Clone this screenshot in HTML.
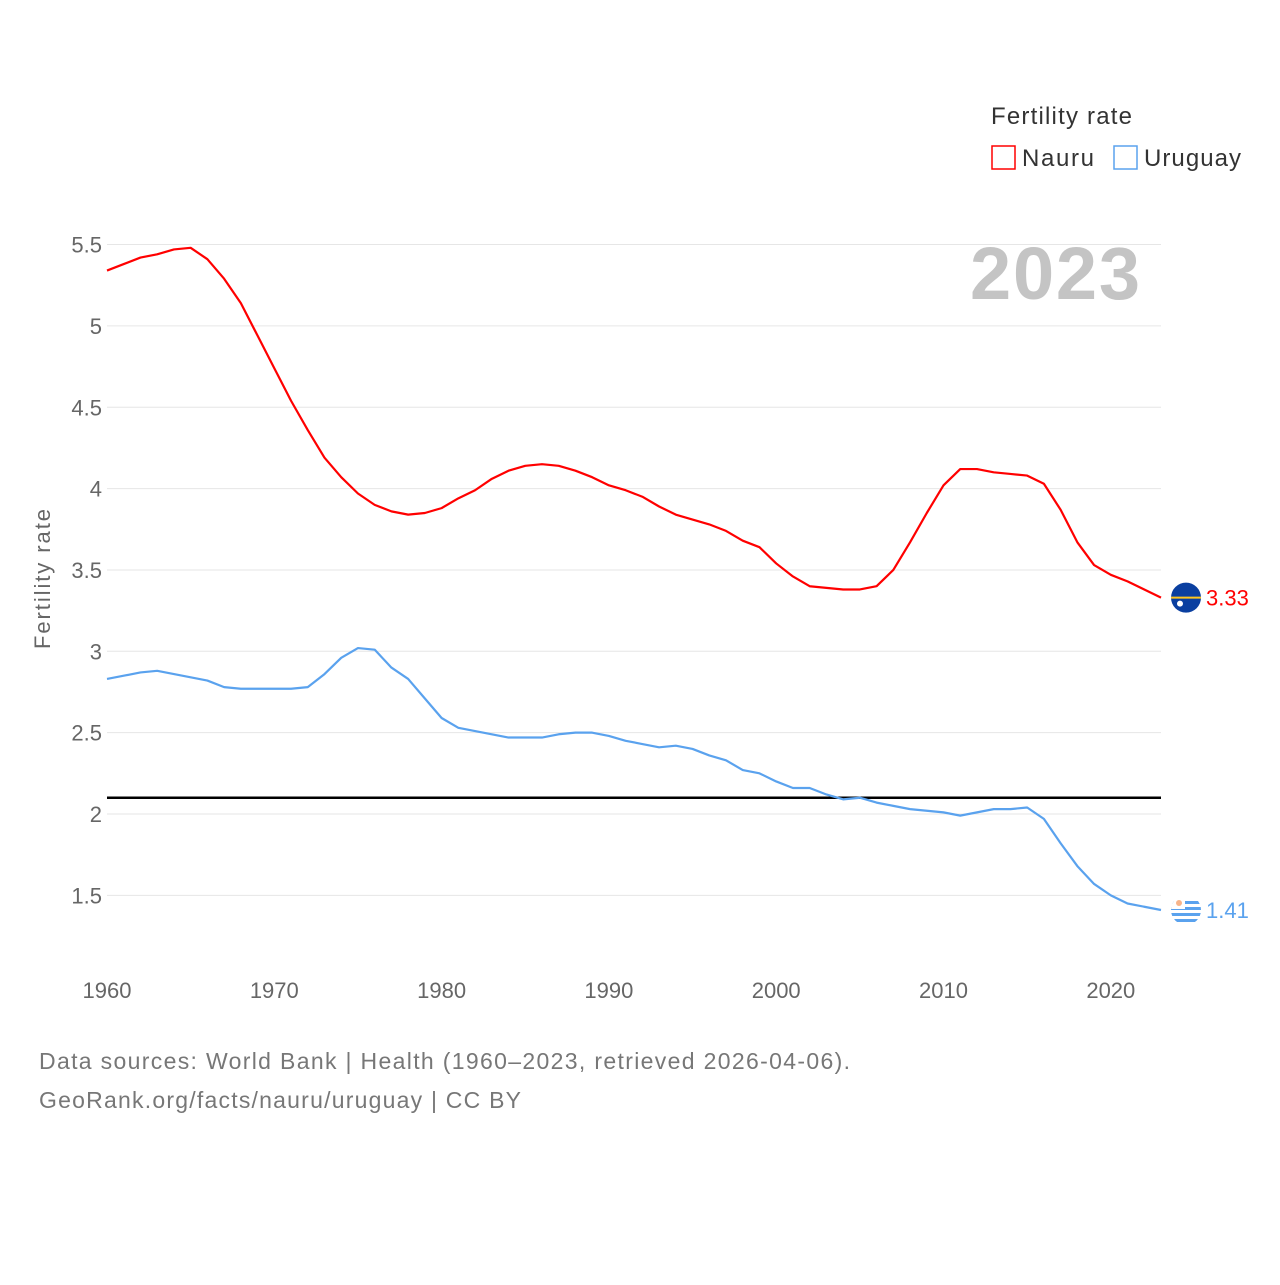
<!DOCTYPE html>
<html><head><meta charset="utf-8"><style>
body{margin:0;background:#fff;font-family:"Liberation Sans",sans-serif}
svg text{font-family:"Liberation Sans",sans-serif}
</style></head><body>
<svg id="c" width="1280" height="1280">
<defs><clipPath id="uc"><circle cx="1186" cy="909" r="15"/></clipPath></defs>
</svg>
<script>
const years=[];for(let y=1960;y<=2023;y++)years.push(y);
const nauru=[5.34,5.38,5.42,5.44,5.47,5.48,5.41,5.29,5.14,4.94,4.74,4.54,4.36,4.19,4.07,3.97,3.90,3.86,3.84,3.85,3.88,3.94,3.99,4.06,4.11,4.14,4.15,4.14,4.11,4.07,4.02,3.99,3.95,3.89,3.84,3.81,3.78,3.74,3.68,3.64,3.54,3.46,3.40,3.39,3.38,3.38,3.40,3.50,3.67,3.85,4.02,4.12,4.12,4.10,4.09,4.08,4.03,3.87,3.67,3.53,3.47,3.43,3.38,3.33];
const uruguay=[2.83,2.85,2.87,2.88,2.86,2.84,2.82,2.78,2.77,2.77,2.77,2.77,2.78,2.86,2.96,3.02,3.01,2.90,2.83,2.71,2.59,2.53,2.51,2.49,2.47,2.47,2.47,2.49,2.50,2.50,2.48,2.45,2.43,2.41,2.42,2.40,2.36,2.33,2.27,2.25,2.20,2.16,2.16,2.12,2.09,2.10,2.07,2.05,2.03,2.02,2.01,1.99,2.01,2.03,2.03,2.04,1.97,1.82,1.68,1.57,1.50,1.45,1.43,1.41];
const yTicks=[1.5,2,2.5,3,3.5,4,4.5,5,5.5];
const xTicks=[1960,1970,1980,1990,2000,2010,2020];
const replacement=[2.1];
const X=y=>107+(y-1960)*(1161-107)/63;
const Y=v=>814-(v-2)*162.7;
const svg=document.getElementById('c');const NS='http://www.w3.org/2000/svg';
function el(t,a,txt,parent){const e=document.createElementNS(NS,t);for(const k in a)e.setAttribute(k,a[k]);if(txt!=null)e.textContent=txt;(parent||svg).appendChild(e);return e;}
yTicks.forEach(v=>{
 let g=el('line',{x1:107,x2:1161,y1:Y(v),y2:Y(v),stroke:'#e6e6e6','stroke-width':1});
 
 
 let t=el('text',{x:102,y:Y(v)+8,'text-anchor':'end','font-size':22,fill:'#666'},String(v));
 
 
});
xTicks.forEach(v=>{
 let t=el('text',{x:X(v),y:998,'text-anchor':'middle','font-size':22,fill:'#666'},String(v));
 
 
});
replacement.forEach(v=>{
 let l=el('line',{x1:107,x2:1161,y1:Y(v),y2:Y(v),stroke:'#000','stroke-width':2.5});
 
 
});
function line(data,color,name){
 let p=el('polyline',{points:data.map((v,i)=>X(years[i])+','+Y(v)).join(' '),fill:'none',stroke:color,'stroke-width':2.2,'stroke-linejoin':'round'});
 
 
}
line(nauru,'#ff0000','nauru-line');
line(uruguay,'#5aa2ee','uruguay-line');
const ln=nauru[nauru.length-1],lu=uruguay[uruguay.length-1];
let c1=el('circle',{cx:1186,cy:Y(ln),r:15,fill:'#0a3fa0'});


el('line',{x1:1171,x2:1201,y1:Y(ln),y2:Y(ln),stroke:'#ffc61e','stroke-width':2});
el('circle',{cx:1180,cy:Y(ln)+6,r:3,fill:'#fff'});
document.querySelector('#uc circle').setAttribute('cy',Y(lu));
let ug=el('g',{'clip-path':'url(#uc)'});


el('rect',{x:1171,y:Y(lu)-15,width:30,height:30,fill:'#fff'},null,ug);
for(let k=0;k<4;k++)el('rect',{x:1171,y:Y(lu)-9+k*6,width:30,height:3,fill:'#5aa2ee'},null,ug);
el('rect',{x:1171,y:Y(lu)-15,width:14,height:14,fill:'#fff'},null,ug);
el('circle',{cx:1179,cy:Y(lu)-7,r:3,fill:'#f7b48a'},null,ug);
let v1=el('text',{x:1206,y:Y(ln)+8,'font-size':22,fill:'#ff0000'},ln.toFixed(2));


let v2=el('text',{x:1206,y:Y(lu)+8,'font-size':22,fill:'#5aa2ee'},lu.toFixed(2));


</script>
<svg style="position:absolute;left:0;top:0" width="1280" height="1280">
<text x="1140" y="299" text-anchor="end" font-size="74" font-weight="bold" fill="#c4c4c4" textLength="170">2023</text>
<text x="50" y="579" transform="rotate(-90 50 579)" text-anchor="middle" font-size="22" fill="#666" textLength="140">Fertility rate</text>
<text x="991" y="124" font-size="24" fill="#333" textLength="141">Fertility rate</text>
<g><rect x="992" y="146" width="23" height="23" fill="none" stroke="#ff0000" stroke-width="1.5"/><text x="1022" y="166" font-size="24" fill="#333" textLength="72">Nauru</text></g>
<g><rect x="1114" y="146" width="23" height="23" fill="none" stroke="#5aa2ee" stroke-width="1.5"/><text x="1144" y="166" font-size="24" fill="#333" textLength="97">Uruguay</text></g>
<text x="39" y="1069" font-size="23" fill="#777" textLength="811">Data sources: World Bank | Health (1960–2023, retrieved 2026-04-06).</text>
<text x="39" y="1108" font-size="23" fill="#777" textLength="482">GeoRank.org/facts/nauru/uruguay | CC BY</text>
</svg>
</body></html>
